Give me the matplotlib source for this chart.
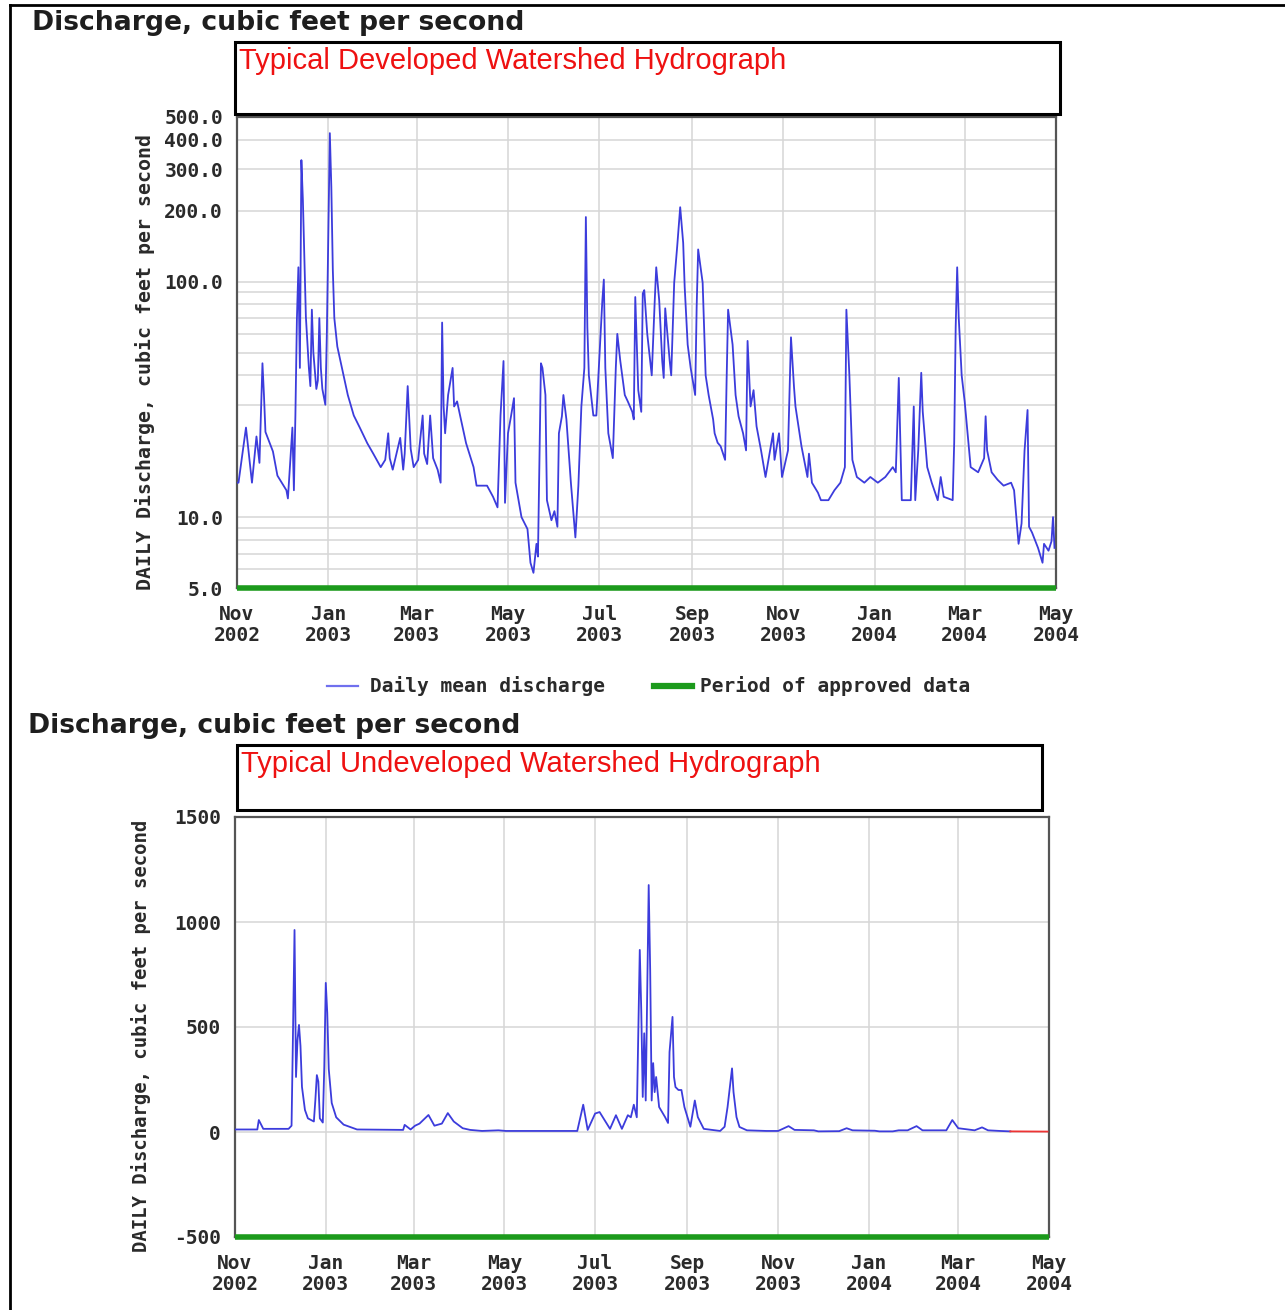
import matplotlib
matplotlib.use("Agg")
import matplotlib.pyplot as plt
from matplotlib.lines import Line2D
from matplotlib.patches import Rectangle
from matplotlib.ticker import FixedLocator, NullFormatter
import numpy as np
import pandas as pd

# daily mean discharge, days counted from 2002-11-01
start = pd.Timestamp("2002-11-01")
end = pd.Timestamp("2004-05-01")

dev_day = [0, 1, 6, 10, 13, 15, 17, 18, 19, 24, 27, 33, 34, 36, 37, 38, 39, 40, 41, 42,
           43, 44, 45, 46, 47, 48, 49, 50, 51, 53, 54, 55, 56, 57, 59, 60, 61, 62, 63, 64,
           65, 67, 74, 78, 82, 87, 91, 96, 99, 101, 102, 104, 109, 111, 112, 114, 116, 118, 121, 124, 125, 127,
           129, 131, 134, 136, 137, 138, 139, 141, 144, 145, 147, 149, 153, 158, 160, 167, 171, 174, 176, 178, 179,
           181, 183, 185, 186, 190, 194, 196, 198, 200, 201, 202, 203, 204, 206, 207, 210, 212, 214, 215, 217,
           218, 220, 223, 226, 228, 230, 232, 233, 234, 235, 238, 240, 244, 245, 246, 248, 251, 253, 254, 256,
           259, 261, 264, 265, 266, 268, 270, 271, 272, 274, 277, 279, 280, 282, 284, 285, 286, 289, 290, 292,
           294, 296, 298, 299, 301, 303, 306, 307, 308, 311, 313, 315, 318, 319, 321, 323, 326, 327, 328, 331,
           333, 335, 338, 340, 341, 343, 345, 347, 350, 353, 356, 358, 359, 362, 364, 368, 370, 372, 373, 377,
           381, 382, 384, 388, 390, 395, 399, 403, 406, 407, 409, 411, 414, 419, 423, 428, 433, 438, 440, 442,
           444, 450, 452, 453, 455, 457, 458, 461, 464, 468, 470, 472, 478, 479, 480, 481, 482, 484, 486, 490,
           495, 499, 500, 501, 504, 508, 512, 517, 519, 522, 524, 526, 528, 529, 531, 535, 538, 539, 542, 544,
           545, 546]
dev_cfs = [14, 14, 24, 14, 22, 17, 45, 33, 23, 19, 15, 13, 12, 19, 24, 13, 27, 69, 115, 43,
           328, 222, 127, 71, 55, 43, 36, 76, 50, 35, 38, 70, 43, 35, 30, 60, 166, 427, 252, 112,
           70, 53, 33, 27, 24, 20.6, 18.6, 16.3, 17.5, 22.7, 17.8, 15.9, 21.7, 15.9, 18.6, 36, 19.5, 16.3, 17.5, 27, 18.6, 16.8,
           27, 17.8, 15.9, 14, 67, 29.5, 22.7, 33, 43, 29.5, 31, 27, 20.6, 16.3, 13.6, 13.6, 12.2, 11, 27, 46, 11.5,
           22.7, 26.8, 32, 14, 10, 8.9, 6.4, 5.8, 7.7, 6.8, 17.5, 45, 43, 33, 11.8, 9.7, 10.6, 9.1, 22.7, 26.8,
           33, 26, 14, 8.2, 13.6, 29.5, 43, 188, 64, 40, 27, 27, 83, 102, 43, 22.7, 17.8, 43, 60, 46,
           33, 31, 28, 26, 86, 34.6, 28, 89, 92, 60, 40, 83, 115, 83, 46, 39, 77, 46, 40, 99,
           141, 207, 146, 95, 54, 43, 33, 78, 137, 99, 40, 33, 26, 22.7, 20.7, 20, 17.5, 38, 76, 54,
           33, 26.8, 22.7, 19.2, 56, 29.5, 34.6, 24.3, 19.2, 14.8, 19.2, 22.7, 17.5, 22.7, 14.8, 19.2, 58, 35.8, 29.5, 20,
           14.8, 18.6, 14, 12.7, 11.8, 11.8, 13, 14, 16.3, 76, 40, 17.5, 14.8, 14, 14.8, 14, 14.8, 16.3, 15.5, 39,
           11.8, 11.8, 29.5, 11.8, 19.2, 41, 28, 16.3, 14, 11.8, 14.8, 12.2, 11.8, 20.7, 64, 115, 71, 40, 31, 16.3,
           15.5, 17.8, 26.8, 19.2, 15.5, 14.4, 13.6, 14, 13, 7.7, 9.4, 19.2, 28.5, 9.1, 8.6, 7.4, 6.4, 7.7, 7.2, 7.9,
           10, 7.4]

undev_day = [0, 15, 16, 19, 36, 38, 39, 40, 41, 42, 43, 44, 45, 47, 49, 53, 54, 55, 56, 57,
             59, 60, 61, 62, 63, 65, 68, 73, 82, 113, 114, 118, 121, 124, 130, 134, 139, 143, 147, 153,
             158, 166, 177, 182, 226, 230, 234, 237, 242, 245, 252, 256, 260, 264, 266, 268, 270, 271, 272, 273,
             274, 275, 276, 278, 279, 280, 281, 282, 283, 285, 289, 291, 292, 294, 295, 296, 298, 300, 302, 306,
             309, 311, 315, 326, 329, 331, 334, 335, 337, 339, 344, 357, 365, 372, 376, 389, 392, 406, 411, 415,
             430, 433, 442, 446, 452, 458, 462, 478, 482, 486, 497, 502, 506, 514, 521]
undev_cfs = [12, 12, 57, 15, 15, 30, 486, 962, 262, 438, 510, 410, 215, 105, 65, 50, 152, 271, 240, 65,
             45, 310, 710, 567, 300, 138, 70, 35, 12, 10, 34, 12, 30, 40, 81, 30, 40, 90, 50, 18,
             10, 5, 8, 5, 5, 5, 130, 10, 88, 95, 15, 80, 15, 80, 70, 130, 70, 470, 867, 581,
             167, 470, 150, 1176, 771, 150, 328, 190, 262, 119, 71, 43, 381, 548, 262, 214, 200, 200, 119, 25,
             150, 71, 15, 5, 25, 119, 303, 190, 71, 24, 8, 5, 5, 28, 10, 8, 3, 4, 18, 8,
             6, 3, 3, 8, 8, 28, 8, 8, 57, 18, 8, 22, 8, 5, 3]
# provisional tail
prov_day = [521, 546]
prov_cfs = [3, 2]

tick_dates = pd.date_range("2002-11-01", "2004-05-01", freq="2MS")
tick_labels = [d.strftime("%b\n%Y") for d in tick_dates]

dev_ticks = [5, 10, 100, 200, 300, 400, 500]
undev_ticks = [-500, 0, 500, 1000, 1500]

title_txt = "Discharge, cubic feet per second"
ylab = "DAILY Discharge, cubic feet per second"

W, H = 1285, 1310
fig = plt.figure(figsize=(W / 100, H / 100), dpi=100)
fig.patch.set_facecolor("white")

mono = "DejaVu Sans Mono"
blue = "#3c3cdc"
green = "#1c9a1c"
grid_c = "#d6d6d6"
txt_c = "#2a2a2a"


def fx(px):
    return px / W


def fy(py):
    return 1 - py / H


def to_dates(days):
    return start + pd.to_timedelta(np.array(days), unit="D")


def style_axes(ax, ylab_size):
    ax.set_xlim(start, end)
    ax.set_xticks(tick_dates)
    ax.set_xticklabels(tick_labels, fontfamily=mono, fontweight="bold",
                       fontsize=14, color=txt_c, linespacing=1.15)
    ax.tick_params(axis="both", length=0, pad=10)
    ax.tick_params(axis="x", pad=12)
    for lab in ax.get_yticklabels():
        lab.set_fontfamily(mono)
        lab.set_fontweight("bold")
        lab.set_fontsize(14)
        lab.set_color(txt_c)
    ax.grid(True, which="both", color=grid_c, lw=1.1)
    ax.set_axisbelow(True)
    for s in ax.spines.values():
        s.set_color("#555555")
        s.set_linewidth(1.6)
    ax.set_ylabel(ylab, fontfamily=mono, fontweight="bold", fontsize=ylab_size, color=txt_c)


# --- developed watershed (log scale) ---
ax1 = fig.add_axes([fx(237), fy(588), fx(1056 - 237), (588 - 117) / H])
ax1.set_yscale("log")
ax1.set_ylim(5, 500)
ax1.yaxis.set_major_locator(FixedLocator(dev_ticks))
ax1.yaxis.set_minor_locator(FixedLocator([6, 7, 8, 9, 20, 30, 40, 50, 60, 70, 80, 90]))
ax1.yaxis.set_minor_formatter(NullFormatter())
ax1.set_yticklabels(["%.1f" % t for t in dev_ticks])
ax1.plot(to_dates(dev_day), dev_cfs, color=blue, lw=1.3, zorder=3)
ax1.plot([start, end], [5, 5], color=green, lw=4, solid_capstyle="butt", clip_on=False, zorder=4)
style_axes(ax1, 14.3)
ax1.tick_params(axis="y", which="minor", length=0)
ax1.yaxis.set_label_coords(-0.100, 0.48)

# --- undeveloped watershed (linear scale) ---
ax2 = fig.add_axes([fx(235), fy(1237), fx(1049 - 235), (1237 - 817) / H])
ax2.set_ylim(-500, 1500)
ax2.set_yticks(undev_ticks)
ax2.set_yticklabels([str(t) for t in undev_ticks])
ax2.plot(to_dates(undev_day), undev_cfs, color=blue, lw=1.3, zorder=3)
ax2.plot(to_dates(prov_day), prov_cfs, color="#ee3333", lw=1.3, zorder=3)
ax2.plot([start, end], [-500, -500], color=green, lw=4, solid_capstyle="butt", clip_on=False, zorder=4)
style_axes(ax2, 13.6)
ax2.yaxis.set_label_coords(-0.103, 0.48)

# headings
fig.text(fx(32), fy(23), title_txt, fontsize=19.2, fontweight="bold", color="#1e1e1e", va="center")
fig.text(fx(28), fy(726), title_txt, fontsize=19.2, fontweight="bold", color="#1e1e1e", va="center")

# boxed captions
for (x0, y0, x1, y1, cap) in [(235, 42, 1060, 114, "Typical Developed Watershed Hydrograph"),
                               (237, 745, 1042, 810, "Typical Undeveloped Watershed Hydrograph")]:
    fig.patches.append(Rectangle((fx(x0), fy(y1)), fx(x1 - x0), (y1 - y0) / H, fill=True,
                                 facecolor="white", edgecolor="black", lw=2.2,
                                 transform=fig.transFigure, zorder=5))
    fig.text(fx(x0 + 4), fy(y0 + 19), cap, fontsize=21, color="#ee1111",
             fontfamily="Liberation Sans", va="center", zorder=6)

# legend between the charts
fig.add_artist(Line2D([fx(327), fx(358)], [fy(686), fy(686)], color="#7070ee", lw=1.6))
fig.text(fx(370), fy(686), "Daily mean discharge", fontfamily=mono, fontweight="bold",
         fontsize=14, color=txt_c, va="center")
fig.add_artist(Line2D([fx(654), fx(692)], [fy(686), fy(686)], color=green, lw=4.5))
fig.text(fx(700), fy(686), "Period of approved data", fontfamily=mono, fontweight="bold",
         fontsize=14, color=txt_c, va="center")

# page frame
fig.add_artist(Line2D([fx(10), fx(10)], [fy(5), 0], color="black", lw=2))
fig.add_artist(Line2D([fx(10), 1], [fy(5), fy(5)], color="black", lw=2))

fig.savefig("out.png", dpi=100, facecolor="white")
